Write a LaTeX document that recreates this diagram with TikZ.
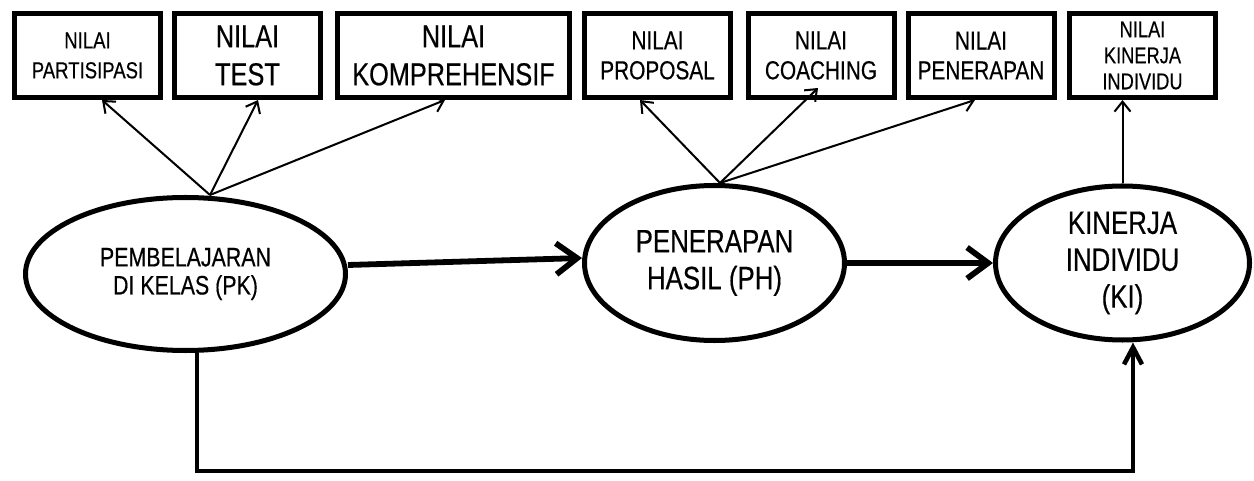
\documentclass[tikz,border=0pt]{standalone}
\usepackage{fontspec}
\setmainfont{Liberation Sans}[FakeStretch=0.8, FakeBold=0.4]
\usepackage{tikz}
\usetikzlibrary{shapes.geometric, arrows.meta}
\tikzstyle{nilai} = [rectangle, minimum width=2.92cm, minimum height=1.68cm, inner sep=0pt, text centered, align=center, draw=black, line width=2.85pt]
\tikzstyle{konstruk} = [ellipse, inner sep=0pt, text centered, align=center, draw=black, line width=2.85pt]
\tikzstyle{thinarrow} = [line width=1.15pt, -{Straight Barb[length=0.2cm, width=0.32cm]}]
\tikzstyle{fatarrow} = [line width=3.3pt, -{Straight Barb[length=0.42cm, width=0.62cm]}]
\tikzstyle{balik} = [line width=2.6pt, -{Straight Barb[length=0.34cm, width=0.36cm]}]

\begin{document}
\begin{tikzpicture}[node distance=3.2cm]
    \useasboundingbox (0,0) rectangle (25.08,-9.62);

    \node (nPartisipasi) [nilai, font=\fontsize{13.2}{17}\selectfont] at (1.75,-1.11) {NILAI\\PARTISIPASI};
    \node (nTest) [nilai, right of=nPartisipasi, font=\fontsize{18}{21.6}\selectfont] {NILAI\\TEST};
    \node (nKompre) [nilai, minimum width=4.64cm, right of=nTest, xshift=0.92cm, font=\fontsize{18}{21.6}\selectfont] {NILAI\\KOMPREHENSIF};
    \node (nProposal) [nilai, right of=nKompre, xshift=0.88cm, font=\fontsize{14.8}{17}\selectfont] {NILAI\\PROPOSAL};
    \node (nCoaching) [nilai, right of=nProposal, xshift=0.07cm, font=\fontsize{14.8}{17}\selectfont] {NILAI\\COACHING};
    \node (nPenerapan) [nilai, right of=nCoaching, font=\fontsize{14.8}{17}\selectfont] {NILAI\\PENERAPAN};
    \node (nKinerja) [nilai, right of=nPenerapan, xshift=0.03cm, font=\fontsize{13}{14.8}\selectfont] {NILAI\\KINERJA\\INDIVIDU};

    \node (pk) [konstruk, minimum width=6.4cm, minimum height=3.06cm, font=\fontsize{15.2}{16}\selectfont] at (3.71,-5.48) {PEMBELAJARAN\\DI KELAS (PK)};
    \node (ph) [konstruk, minimum width=5.2cm, minimum height=3.1cm, right of=pk, xshift=7.38cm, yshift=0.22cm, font=\fontsize{18.4}{21}\selectfont] {PENERAPAN\\HASIL (PH)};
    \node (ki) [konstruk, minimum width=5.08cm, minimum height=3.08cm, right of=ph, xshift=4.96cm, font=\fontsize{18.4}{21}\selectfont] {KINERJA\\INDIVIDU\\(KI)};

    \coordinate (pkTop) at ([xshift=0.49cm]pk.north);
    \coordinate (phTop) at ([xshift=0.11cm]ph.north);

    \draw [thinarrow] (pkTop) -- ([xshift=0.29cm]nPartisipasi.south);
    \draw [thinarrow] (pkTop) -- ([xshift=0.21cm]nTest.south);
    \draw [thinarrow] (pkTop) -- ([xshift=-0.17cm]nKompre.south);
    \draw [thinarrow] (phTop) -- ([xshift=-0.35cm]nProposal.south);
    \draw [thinarrow] (phTop) -- ([xshift=-0.06cm, yshift=0.24cm]nCoaching.south);
    \draw [thinarrow] (phTop) -- ([xshift=-0.12cm]nPenerapan.south);
    \draw [thinarrow] (ki.north) -- (ki.north |- nKinerja.south);

    \draw [fatarrow] ([yshift=0.18cm]pk.east) -- ([yshift=0.1cm]ph.west);
    \draw [fatarrow] (ph.east) -- (ki.west);
    \draw [balik] ([xshift=0.23cm]pk.south) -- ++(0,-2.36) -| ([xshift=0.21cm]ki.south);
\end{tikzpicture}
\end{document}
